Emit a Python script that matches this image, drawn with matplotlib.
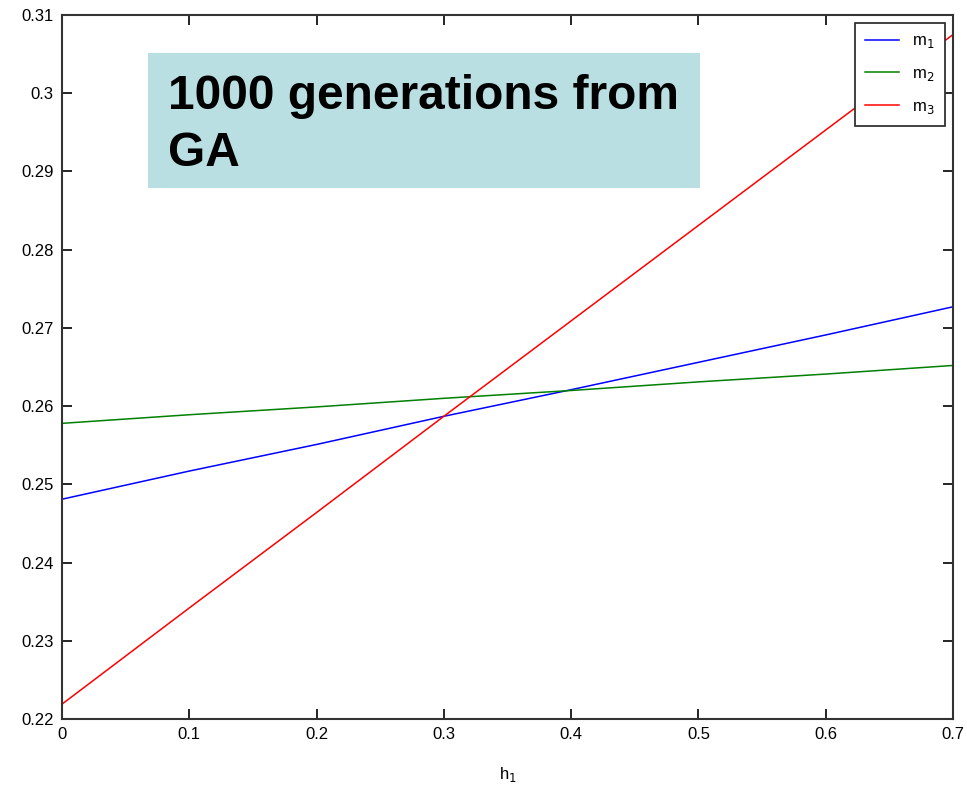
import matplotlib
matplotlib.use('Agg')
import matplotlib.pyplot as plt
from matplotlib.patches import Rectangle

# values
h1 = [0.0, 0.1, 0.2, 0.3, 0.4, 0.5, 0.6, 0.7]
m1 = [0.2481, 0.2517, 0.2551, 0.2587, 0.2621, 0.2656, 0.2691, 0.2727]
m2 = [0.2578, 0.2589, 0.2599, 0.2610, 0.2620, 0.2631, 0.2641, 0.2652]
m3 = [0.2219, 0.2342, 0.2464, 0.2587, 0.2709, 0.2831, 0.2953, 0.3075]
xticks = [0, 0.1, 0.2, 0.3, 0.4, 0.5, 0.6, 0.7]
xticklabels = ['0', '0.1', '0.2', '0.3', '0.4', '0.5', '0.6', '0.7']
yticks = [0.22, 0.23, 0.24, 0.25, 0.26, 0.27, 0.28, 0.29, 0.3, 0.31]
yticklabels = ['0.22', '0.23', '0.24', '0.25', '0.26', '0.27', '0.28', '0.29', '0.3', '0.31']

plt.rcParams['font.family'] = ['Liberation Sans', 'DejaVu Sans']

fig = plt.figure(figsize=(9.67, 7.91), dpi=100)
ax = fig.add_axes([0.0641, 0.091, 0.9214, 0.890])

ax.plot(h1, m1, color='#0000ff', lw=1.1, label='m$_1$')
ax.plot(h1, m2, color='#008000', lw=1.1, label='m$_2$')
ax.plot(h1, m3, color='#ff0000', lw=1.1, label='m$_3$')

ax.set_xlim(0, 0.7)
ax.set_ylim(0.22, 0.31)
ax.set_xticks(xticks)
ax.set_xticklabels(xticklabels)
ax.set_yticks(yticks)
ax.set_yticklabels(yticklabels)
ax.tick_params(direction='in', length=7, width=1.2, labelsize=12,
               top=True, right=True, pad=6)
for s in ax.spines.values():
    s.set_linewidth(1.5)
    s.set_color('#333333')

ax.set_xlabel('h$_1$', fontsize=12, labelpad=16)

leg = ax.legend(loc='upper right', fontsize=12, fancybox=False,
                edgecolor='#333333', framealpha=1, handlelength=2.0,
                handletextpad=0.8, borderaxespad=0.5, labelspacing=0.95,
                borderpad=0.6)
leg.get_frame().set_linewidth(1.3)

# annotation box
fig.patches.append(Rectangle((148 / 967, 1 - 188 / 791), 552 / 967, 135 / 791,
                             transform=fig.transFigure, facecolor='#b9dfe2',
                             edgecolor='none', zorder=5))
fig.text(168 / 967, 1 - 74 / 791, '1000 generations from\nGA', fontsize=34.5,
         fontweight='bold', va='top', ha='left', linespacing=1.33, zorder=6)

fig.savefig('out.png', dpi=100)
